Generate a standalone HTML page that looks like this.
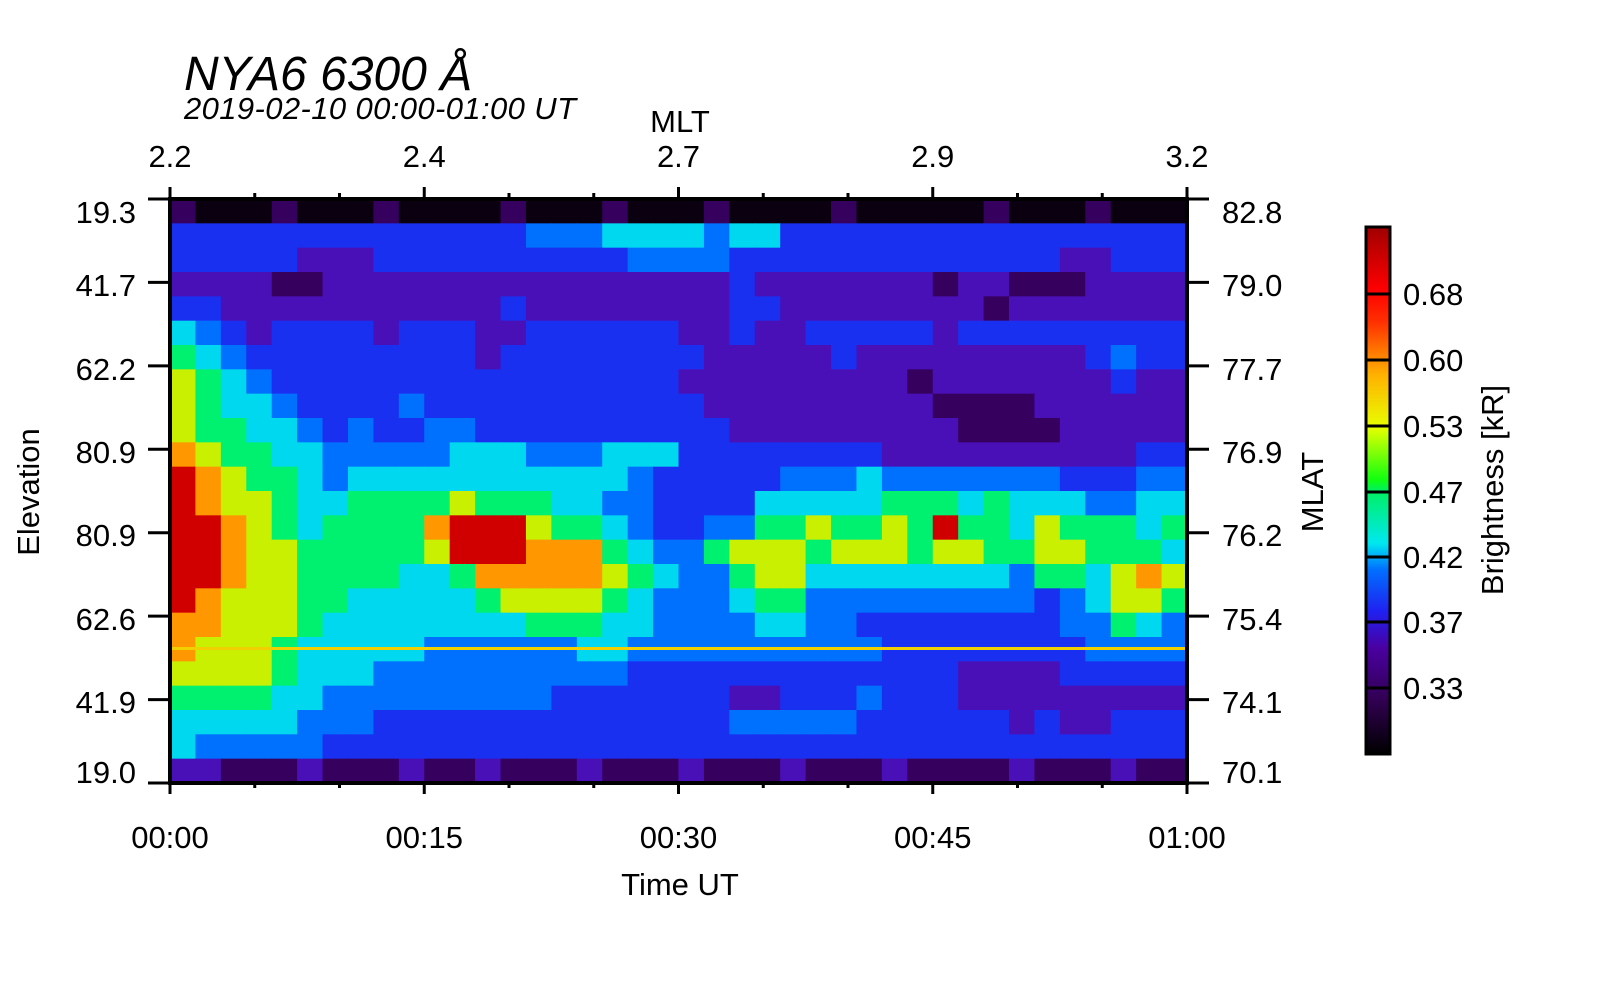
<!DOCTYPE html>
<html><head><meta charset="utf-8"><style>
html,body{margin:0;padding:0;background:#fff;}
svg{display:block;font-family:"Liberation Sans",Arial,sans-serif;}
</style></head>
<body>
<svg id="chart" width="1600" height="1000" viewBox="0 0 1600 1000" xmlns="http://www.w3.org/2000/svg">
<defs>
<linearGradient id="cbar" x1="0" y1="1" x2="0" y2="0">
<stop offset="0" stop-color="#000000"/>
<stop offset="0.1" stop-color="#300050"/>
<stop offset="0.2" stop-color="#4a00a0"/>
<stop offset="0.27" stop-color="#2020f0"/>
<stop offset="0.35" stop-color="#0070ff"/>
<stop offset="0.4" stop-color="#00e8f0"/>
<stop offset="0.5" stop-color="#00f060"/>
<stop offset="0.52" stop-color="#10ff10"/>
<stop offset="0.62" stop-color="#e8ff00"/>
<stop offset="0.72" stop-color="#ffb000"/>
<stop offset="0.82" stop-color="#ff3000"/>
<stop offset="0.88" stop-color="#ff0000"/>
<stop offset="1" stop-color="#a00000"/>
</linearGradient>
</defs>
<g id="heat"></g>
<g id="axes"></g>
<text x="184" y="90" font-size="48" font-style="italic">NYA6 6300 Å</text>
<text x="184" y="119" font-size="31" font-style="italic" textLength="392">2019-02-10 00:00-01:00 UT</text>
<text x="680" y="132" font-size="31" text-anchor="middle">MLT</text>
<text x="680" y="895" font-size="31" text-anchor="middle">Time UT</text>
<text transform="translate(39,492) rotate(-90)" font-size="31" text-anchor="middle">Elevation</text>
<text transform="translate(1323,492) rotate(-90)" font-size="31" text-anchor="middle">MLAT</text>
<text transform="translate(1503,490) rotate(-90)" font-size="31" text-anchor="middle">Brightness [kR]</text>
<rect x="1366" y="227" width="24" height="527" fill="url(#cbar)" stroke="#000" stroke-width="3"/>
<g id="cb"></g>
</svg>
<script>
const rows = [
"1000100010000100010001000010000010001000",
"3333333333333344455554553333333333333333",
"3333322233333333334444333333333333322333",
"2222112222222222222222322222221221112222",
"3322222222222322222222332222222212222222",
"5432333323332233333322322333332333333333",
"6543333333332333333332222232222222223433",
"7654333333333333333322222222212222222322",
"7655433334333333333332222222221111222222",
"7665543433443333333333222222222111122222",
"8766554444455544455533333333222222222233",
"9876654555555555554333334445444444433344",
"9877655666676665544333355555666565554455",
"9987656666899976654334466766769665766656",
"9987766666799988865446777677767766776665",
"9987766665568888876544677555555554665787",
"9877766555556777765444566444444444345776",
"8877765555555566655444455443333333344654",
"8777655555444444554444444444333333334444",
"7777655544444444443333333333333222233333",
"6666554444444443333333223334333222222222",
"5555544433333333333333444443333332322333",
"5444443333333333333333333333333333333333",
"2211121112112111211121112111211112111211"
];
const levelColors = ["#0a0010","#36005e","#4a10b8","#1a30f0","#0070ff","#00d8f0","#00f070","#c8f000","#ff9800","#d00000"];
const timeTicks = ["00:00","00:15","00:30","00:45","01:00"];
const mltTicks = ["2.2","2.4","2.7","2.9","3.2"];
const elevTicks = ["19.3","41.7","62.2","80.9","80.9","62.6","41.9","19.0"];
const mlatTicks = ["82.8","79.0","77.7","76.9","76.2","75.4","74.1","70.1"];
const cbTicks = ["0.68","0.60","0.53","0.47","0.42","0.37","0.33"];
const cbTickY = [294,360,426,492,557,622,688];

const NS="http://www.w3.org/2000/svg";
const L=170,R=1187,T=199,B=783;
const nCols=40,nRows=rows.length;
const xs=c=>L+(R-L)*c/nCols;
const ys=r=>T+(B-T)*r/nRows;
function mk(tag,attrs,parent){const e=document.createElementNS(NS,tag);for(const k in attrs)e.setAttribute(k,attrs[k]);parent.appendChild(e);return e;}
const heat=document.getElementById('heat');
rows.forEach((row,r)=>{
  for(let c=0;c<nCols;c++){
    const v=+(row[c]||row[row.length-1]);
    const e=mk('rect',{x:xs(c),y:ys(r),width:xs(c+1)-xs(c)+0.6,height:ys(r+1)-ys(r)+0.6,fill:levelColors[v]},heat);
    
    
  }
});
const ln=mk('rect',{x:L,y:647,width:R-L,height:3,fill:"#f0d000"},heat);



const ax=document.getElementById('axes');
mk('rect',{x:L,y:T,width:R-L,height:B-T,fill:"none",stroke:"#000","stroke-width":4},ax);
for(let m=0;m<=12;m++){
  const x=L+(R-L)*m/12, major=m%3===0;
  mk('line',{x1:x,y1:B,x2:x,y2:B+(major?11:5),stroke:"#000","stroke-width":3},ax);
  mk('line',{x1:x,y1:T,x2:x,y2:T-(major?12:6),stroke:"#000","stroke-width":3},ax);
}
timeTicks.forEach((t,i)=>{
  const e=mk('text',{x:L+(R-L)*i/4,y:848,"font-size":31,"text-anchor":"middle"},ax);e.textContent=t;
  
  
});
mltTicks.forEach((t,i)=>{
  const e=mk('text',{x:L+(R-L)*i/4,y:167,"font-size":31,"text-anchor":"middle"},ax);e.textContent=t;
  
  
});
const labY=[212,285,369,452,535,619,702,772];
elevTicks.forEach((t,i)=>{
  const y=T+(B-T)*i/7;
  mk('line',{x1:148,y1:y,x2:L,y2:y,stroke:"#000","stroke-width":3},ax);
  mk('line',{x1:R,y1:y,x2:1209,y2:y,stroke:"#000","stroke-width":3},ax);
  const e=mk('text',{x:136,y:labY[i]+11,"font-size":31,"text-anchor":"end"},ax);e.textContent=t;
  
  
  const f=mk('text',{x:1222,y:labY[i]+11,"font-size":31},ax);f.textContent=mlatTicks[i];
  
  
});
const cb=document.getElementById('cb');
cbTicks.forEach((t,i)=>{
  mk('line',{x1:1366,y1:cbTickY[i],x2:1390,y2:cbTickY[i],stroke:"#000","stroke-width":3},cb);
  const e=mk('text',{x:1403,y:cbTickY[i]+11,"font-size":31},cb);e.textContent=t;
  
  
});
</script>
</body></html>
